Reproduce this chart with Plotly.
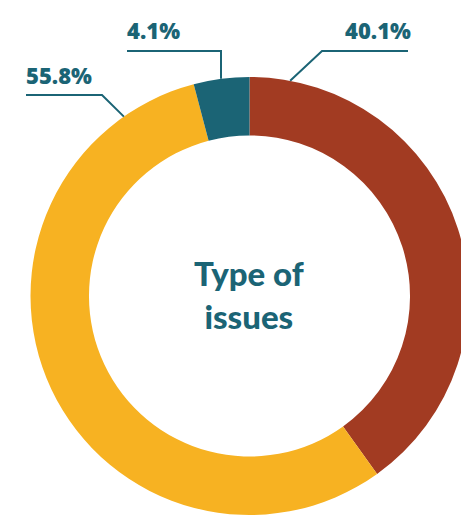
import math
import plotly.graph_objects as go

# Share of reported issues by type
categories = ["Type A", "Type B", "Type C"]
shares = [40.1, 55.8, 4.1]
slice_colors = ["#A23B22", "#F7B222", "#1B6475"]
label_texts = ["40.1%", "55.8%", "4.1%"]
center_title = "Type of<br>issues"

TEAL = "#1B6475"
W, H = 470, 523

# Ring geometry in pixels (centre and outer radius)
CX, CY, R = 249.5, 296.0, 219.0


def px(x, y):
    """Pixel position -> paper coordinates (no margins)."""
    return x / W, 1 - y / H


x0, y0 = px(CX - R, CY + R)
x1, y1 = px(CX + R, CY - R)

fig = go.Figure(
    go.Pie(
        labels=categories,
        values=shares,
        sort=False,
        direction="clockwise",
        rotation=0,
        hole=0.733,
        marker=dict(colors=slice_colors, line=dict(width=0)),
        textinfo="none",
        hoverinfo="label+percent",
        domain=dict(x=[x0, x1], y=[y0, y1]),
        showlegend=False,
    )
)


def ring_point(angle_deg):
    a = math.radians(angle_deg)
    return CX + R * math.sin(a), CY - R * math.cos(a)


# Leader lines: start on the outer edge, elbow, then horizontal run under the label
leaders = [
    # (label, start angle, elbow px, end x px, text centre px)
    (label_texts[0], 10.7, (322, 51), 408, (378, 30)),
    (label_texts[2], -7.4, (221, 51), 127, (153, 30)),
    (label_texts[1], -35.0, (102, 95), 26, (59, 75)),
]

shapes = []
annotations = []
for text, ang, (ex, ey), endx, (tx, ty) in leaders:
    sx, sy = ring_point(ang)
    if text == label_texts[2]:
        sx = ex
    p0 = px(sx, sy)
    p1 = px(ex, ey)
    p2 = px(endx, ey)
    path = f"M {p0[0]},{p0[1]} L {p1[0]},{p1[1]} L {p2[0]},{p2[1]}"
    shapes.append(dict(type="path", xref="paper", yref="paper", path=path,
                       line=dict(color=TEAL, width=2)))
    ax, ay = px(tx, ty)
    annotations.append(dict(x=ax, y=ay, xref="paper", yref="paper", text=text,
                            showarrow=False, xanchor="center", yanchor="middle",
                            font=dict(family="Open Sans", size=22, color=TEAL, weight=800)))

cx, cy = px(CX, CY - 2)
annotations.append(dict(x=cx, y=cy, xref="paper", yref="paper", text=center_title,
                        showarrow=False, xanchor="center", yanchor="middle",
                        font=dict(family="Lato", size=33, color=TEAL, weight=900)))

fig.update_layout(
    width=W,
    height=H,
    margin=dict(l=0, r=0, t=0, b=0),
    paper_bgcolor="white",
    plot_bgcolor="white",
    shapes=shapes,
    annotations=annotations,
)

fig.write_html(
    "out.html",
    post_script="document.body.style.margin='0';document.body.style.overflow='hidden';",
)
